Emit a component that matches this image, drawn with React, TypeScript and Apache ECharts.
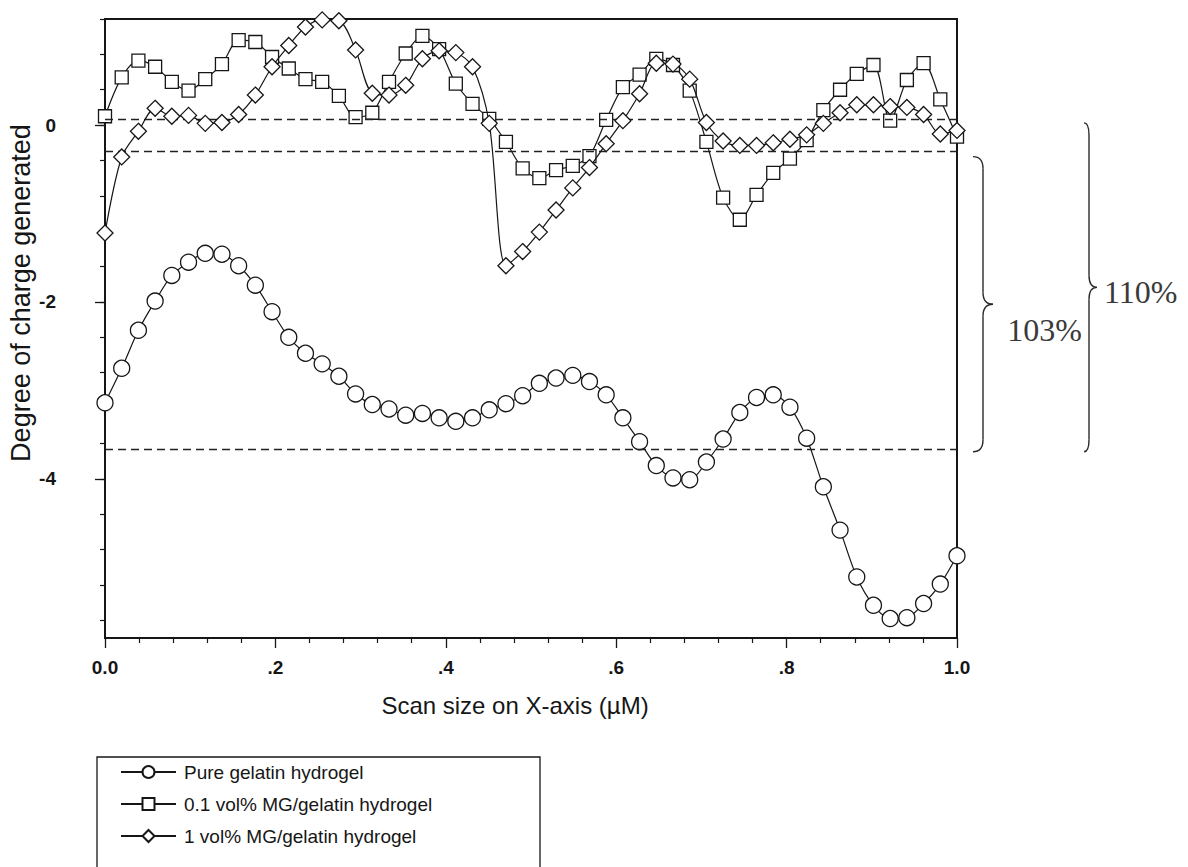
import React, { useEffect, useRef } from "react";
import * as echarts from "echarts";

// Degree of charge generated along the scan line, 52 samples from 0 to 1
const pureGelatin = [
  -3.14, -2.75, -2.32, -1.99, -1.7, -1.55, -1.45, -1.46, -1.59, -1.81,
  -2.11, -2.4, -2.58, -2.7, -2.84, -3.04, -3.16, -3.21, -3.28, -3.26,
  -3.31, -3.35, -3.31, -3.22, -3.15, -3.06, -2.92, -2.86, -2.83, -2.9,
  -3.05, -3.31, -3.58, -3.85, -3.99, -4.01, -3.81, -3.55, -3.25, -3.08,
  -3.05, -3.19, -3.54, -4.09, -4.58, -5.11, -5.43, -5.58, -5.57, -5.41,
  -5.19, -4.87,
];
const mg01 = [
  0.1, 0.54, 0.73, 0.66, 0.49, 0.39, 0.52, 0.69, 0.96, 0.94,
  0.77, 0.64, 0.52, 0.49, 0.33, 0.09, 0.14, 0.49, 0.81, 1.01,
  0.86, 0.47, 0.24, 0.07, -0.19, -0.49, -0.6, -0.51, -0.46, -0.35,
  0.06, 0.43, 0.57, 0.75, 0.68, 0.39, -0.19, -0.82, -1.07, -0.79,
  -0.54, -0.38, -0.17, 0.17, 0.4, 0.58, 0.68, 0.05, 0.51, 0.7,
  0.29, -0.13,
];
const mg1 = [
  -1.22, -0.36, -0.07, 0.19, 0.1, 0.11, 0.02, 0.03, 0.12, 0.34,
  0.66, 0.9, 1.11, 1.19, 1.18, 0.85, 0.36, 0.34, 0.45, 0.75,
  0.84, 0.82, 0.66, 0.02, -1.59, -1.43, -1.21, -0.96, -0.71, -0.48,
  -0.21, 0.05, 0.355, 0.7, 0.69, 0.52, 0.03, -0.18, -0.23, -0.23,
  -0.2, -0.16, -0.11, 0.02, 0.14, 0.23, 0.23, 0.21, 0.2, 0.12,
  -0.1, -0.06,
];

// Mean levels drawn as dashed reference lines: 0.1 vol%, 1 vol%, pure gelatin
const referenceLevels = [0.07, -0.3, -3.66];

const seriesNames = [
  "Pure gelatin hydrogel",
  "0.1 vol% MG/gelatin hydrogel",
  "1 vol% MG/gelatin hydrogel",
];
const seriesSymbols = ["circle", "rect", "diamond"];
const xTickLabels: Record<string, string> = {
  "0": "0.0",
  "0.2": ".2",
  "0.4": ".4",
  "0.6": ".6",
  "0.8": ".8",
  "1": "1.0",
};
const yLabelTicks = [0, -2, -4];
const bracketLabels = ["103%", "110%"];
const xTitle = "Scan size on X-axis (\u00b5M)";
const yTitle = "Degree of charge generated";

const scanPositions = pureGelatin.map((_, i) => i / (pureGelatin.length - 1));

const INK = "#161616";
const SANS = "'Liberation Sans', Arial, sans-serif";
const SERIF = "'Liberation Serif', 'Times New Roman', serif";

export default function App() {
  const ref = useRef<HTMLDivElement>(null);

  useEffect(() => {
    document.body.style.margin = "0";
    const chart = echarts.init(ref.current!, null, { renderer: "svg" });

    const plot = { left: 105, top: 19, width: 852, height: 619 };
    const yMin = -5.8;
    const yMax = 1.2;
    const pxPerUnit = plot.height / (yMax - yMin);
    const minorMin = -5.6;

    const makeSeries = (idx: number, values: number[], size: number) => ({
      type: "line",
      name: seriesNames[idx],
      xAxisIndex: 0,
      yAxisIndex: 0,
      data: values.map((v, i) => [scanPositions[i], v]),
      symbol: seriesSymbols[idx],
      symbolSize: size,
      showAllSymbol: true,
      smooth: 0.3,
      clip: false,
      lineStyle: { color: INK, width: 1.2 },
      itemStyle: { color: "#ffffff", borderColor: INK, borderWidth: 1.3 },
      emphasis: { disabled: true },
      z: 3 + idx,
    });

    const circles: any = makeSeries(0, pureGelatin, 16);
    circles.markLine = {
      silent: true,
      symbol: ["none", "none"],
      label: { show: false },
      lineStyle: { type: [8, 5], color: "#222", width: 1.4 },
      data: referenceLevels.map((v) => ({ yAxis: v })),
      animation: false,
    };

    const hiddenX = (gridIndex: number) => ({
      gridIndex,
      type: "value",
      min: 0,
      max: 1,
      show: false,
      axisLine: { show: false, onZero: false },
    });

    const option: any = {
      animation: false,
      backgroundColor: "#ffffff",
      grid: [
        {
          left: plot.left,
          top: plot.top,
          width: plot.width,
          height: plot.height,
          show: true,
          borderColor: INK,
          borderWidth: 2,
          backgroundColor: "transparent",
        },
        {
          left: plot.left,
          top: plot.top,
          width: plot.width,
          height: (yMax - minorMin) * pxPerUnit,
        },
        {
          left: plot.left,
          top: plot.top + yMax * pxPerUnit,
          width: plot.width,
          height: 4 * pxPerUnit,
        },
      ],
      xAxis: [
        {
          gridIndex: 0,
          type: "value",
          min: 0,
          max: 1,
          interval: 0.2,
          axisLine: { onZero: false, lineStyle: { color: INK, width: 2 } },
          axisTick: { length: 10, lineStyle: { color: INK, width: 1.3 } },
          minorTick: {
            show: true,
            splitNumber: 5,
            length: 5,
            lineStyle: { color: INK, width: 1.2 },
          },
          splitLine: { show: false },
          minorSplitLine: { show: false },
          axisLabel: {
            margin: 20,
            fontSize: 19,
            fontWeight: "bold",
            fontFamily: SANS,
            color: INK,
            formatter: (v: number) => xTickLabels[String(Math.round(v * 10) / 10)] ?? "",
          },
        },
        hiddenX(1),
        hiddenX(2),
      ],
      yAxis: [
        {
          gridIndex: 0,
          type: "value",
          min: yMin,
          max: yMax,
          axisLine: { show: true, onZero: false, lineStyle: { color: INK, width: 2 } },
          axisTick: { show: false },
          axisLabel: { show: false },
          splitLine: { show: false },
        },
        {
          gridIndex: 1,
          type: "value",
          min: minorMin,
          max: yMax,
          interval: 0.4,
          axisLine: { show: false, onZero: false },
          axisTick: { show: true, length: 5, lineStyle: { color: INK, width: 1.2 } },
          axisLabel: { show: false },
          splitLine: { show: false },
        },
        {
          gridIndex: 2,
          type: "value",
          min: yLabelTicks[2],
          max: yLabelTicks[0],
          interval: 2,
          axisLine: { show: false, onZero: false },
          axisTick: { show: true, length: 10, lineStyle: { color: INK, width: 1.3 } },
          axisLabel: {
            margin: 49,
            fontSize: 19,
            fontWeight: "bold",
            fontFamily: SANS,
            color: INK,
            formatter: (v: number) => String(Math.round(v)),
          },
          splitLine: { show: false },
        },
      ],
      legend: {
        left: 97,
        top: 757,
        orient: "vertical",
        itemWidth: 55,
        itemHeight: 15,
        itemGap: 10,
        padding: [4, 10, 5, 23],
        selectedMode: false,
        textStyle: {
          fontSize: 19,
          lineHeight: 22,
          fontFamily: SANS,
          color: INK,
          padding: [0, 0, 0, 3],
        },
        data: seriesNames,
      },
      series: [circles, makeSeries(1, mg01, 13), makeSeries(2, mg1, 16)],
    };

    chart.setOption(option);

    // Bracket annotations anchored on the dashed reference levels
    const py = (v: number) => chart.convertToPixel({ yAxisIndex: 0 }, v) as number;
    const xRight = chart.convertToPixel({ xAxisIndex: 0 }, 1) as number;

    const braceParts = (xv: number, yTop: number, yBot: number, curl: number, tip: number) => {
      const yTip = (yTop + yBot) / 2;
      const r = 12;
      const st = { stroke: "#2a2a2a", lineWidth: 1.4, fill: "none" };
      return [
        { type: "bezierCurve", shape: { x1: xv - curl, y1: yTop, cpx1: xv, cpy1: yTop, x2: xv, y2: yTop + r }, style: st },
        { type: "line", shape: { x1: xv, y1: yTop + r, x2: xv, y2: yTip - r }, style: st },
        { type: "bezierCurve", shape: { x1: xv, y1: yTip - r, cpx1: xv, cpy1: yTip, x2: xv + tip, y2: yTip }, style: st },
        { type: "bezierCurve", shape: { x1: xv + tip, y1: yTip, cpx1: xv, cpy1: yTip, x2: xv, y2: yTip + r }, style: st },
        { type: "line", shape: { x1: xv, y1: yTip + r, x2: xv, y2: yBot - r }, style: st },
        { type: "bezierCurve", shape: { x1: xv, y1: yBot - r, cpx1: xv, cpy1: yBot, x2: xv - curl, y2: yBot }, style: st },
      ];
    };

    const innerTop = py(referenceLevels[1]) + 5;
    const innerBot = py(referenceLevels[2]) + 3;
    const outerTop = py(referenceLevels[0]) + 4;
    const outerBot = py(referenceLevels[2]) + 3;
    const innerX = xRight + 26;
    const outerX = xRight + 132;

    chart.setOption({
      graphic: [
        {
          type: "rect",
          shape: { x: 97, y: 757, width: 443, height: 140 },
          style: { fill: "none", stroke: INK, lineWidth: 1.3 },
          z: 1,
        },
        {
          type: "text",
          x: 21,
          y: 293,
          rotation: Math.PI / 2,
          style: {
            text: yTitle,
            font: `27px ${SANS}`,
            fill: INK,
            align: "center",
            verticalAlign: "middle",
            textAlign: "center",
            textVerticalAlign: "middle",
          },
        },
        {
          type: "text",
          x: 515,
          y: 705,
          style: {
            text: xTitle,
            font: `24px ${SANS}`,
            fill: INK,
            align: "center",
            verticalAlign: "middle",
            textAlign: "center",
            textVerticalAlign: "middle",
          },
        },
        ...braceParts(innerX, innerTop, innerBot, 10, 10),
        ...braceParts(outerX, outerTop, outerBot, 5, 8),
        {
          type: "text",
          x: innerX + 99,
          y: (innerTop + innerBot) / 2 + 26,
          style: {
            text: bracketLabels[0],
            font: `32px ${SERIF}`,
            fill: "#3a3a3a",
            align: "right",
            verticalAlign: "middle",
            textAlign: "right",
            textVerticalAlign: "middle",
          },
        },
        {
          type: "text",
          x: outerX + 15,
          y: (outerTop + outerBot) / 2 + 5,
          style: {
            text: bracketLabels[1],
            font: `32px ${SERIF}`,
            fill: "#3a3a3a",
            align: "left",
            verticalAlign: "middle",
            textAlign: "left",
            textVerticalAlign: "middle",
          },
        },
      ],
    });

    return () => chart.dispose();
  }, []);

  return <div ref={ref} style={{ width: 1188, height: 867 }} />;
}
